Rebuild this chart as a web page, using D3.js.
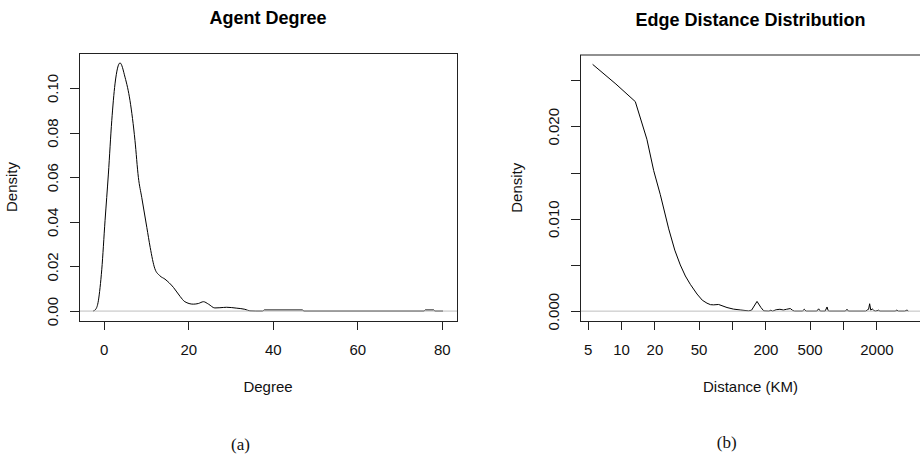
<!DOCTYPE html>
<html>
<head>
<meta charset="utf-8">
<script src="https://cdn.jsdelivr.net/npm/d3@7"></script>
<style>
  body { margin: 0; background: #fff; }
  svg { display: block; font-family: "Liberation Sans", Arial, sans-serif; }
</style>
</head>
<body>
<svg id="chart" width="920" height="455"></svg>
<script>
// ---------- Data: panel (a) Agent Degree ----------
const degreeX = [-2.54, -1.9, -1.27, -0.87, -0.47, 0.31, 1.1, 1.9, 2.67, 3.86, 5.04, 6.22, 7.4, 8.2, 9.0, 10.2, 11.0, 12.1, 13.3, 14.5, 16.5, 18.1, 19.2, 21.2, 22.4, 23.6, 24.8, 26.3, 27.5, 29.1, 31.5, 33.4, 34.6, 36, 37.6, 38, 47, 47.4, 75.8, 76.1, 78.1, 78.4, 80.3];
const degreeY = [0, 0.0008, 0.0046, 0.0105, 0.0185, 0.0405, 0.0614, 0.0853, 0.1018, 0.1112, 0.1048, 0.0943, 0.0764, 0.0599, 0.0509, 0.0375, 0.0285, 0.0190, 0.0158, 0.0143, 0.0106, 0.0065, 0.0042, 0.0031, 0.0034, 0.0042, 0.0031, 0.0014, 0.0015, 0.0017, 0.0013, 0.0008, 0.0001, 0, 0, 0.0005, 0.0005, 0, 0, 0.0005, 0.0005, 0, 0];
const degreeTicksX = [0, 20, 40, 60, 80];
const degreeTicksY = [0, 0.02, 0.04, 0.06, 0.08, 0.10];
const degreeLabelsY = ["0.00", "0.02", "0.04", "0.06", "0.08", "0.10"];

// ---------- Data: panel (b) Edge Distance Distribution ----------
const distX = [5.55, 9.0, 13.45, 17.1, 19.7, 22.6, 26.9, 30.5, 34.2, 38, 42.1, 48.4, 54, 59.5, 64, 68.3, 75.7, 90.1, 103, 120, 141, 150, 168, 182, 193, 215, 224, 232, 250, 270, 290, 310, 335, 350, 365, 430, 448, 465, 580, 603, 625, 690, 718, 735, 750, 1050, 1086, 1120, 1600, 1650, 1700, 1738, 1780, 1830, 1885, 1950, 2094, 2150, 2950, 3060, 3150, 3600, 3776, 3880];
const distY = [0.0267, 0.02457, 0.02267, 0.0186, 0.0152, 0.0126, 0.0089, 0.0066, 0.0050, 0.0038, 0.0029, 0.00185, 0.00118, 0.00086, 0.0007, 0.00068, 0.00072, 0.00039, 0.00022, 0.00012, 0.00003, 0.0001, 0.00105, 0.0004, 0.00003, 0, 0.0001, 0, 0.00015, 0.0002, 0.00012, 0.0002, 0.00028, 0.0001, 0, 0, 0.0002, 0, 0, 0.00025, 0, 0, 0.00045, 0.00005, 0, 0, 0.0002, 0, 0, 0.00012, 0.0002, 0.0008, 0.0001, 0.00025, 0.0001, 0, 0.0001, 0, 0, 0.00012, 0, 0, 0.00012, 0];
const distTicksX = [5, 10, 20, 50, 100, 200, 500, 1000, 2000, 5000];
const distLabelsX = ["5", "10", "20", "50", "", "200", "500", "", "2000", ""];
const distTicksY = [0, 0.005, 0.010, 0.015, 0.020, 0.025];
const distLabelsY = ["0.000", "", "0.010", "", "0.020", ""];

const svg = d3.select("#chart");

function expand(lo, hi) { const p = 0.04 * (hi - lo); return [lo - p, hi + p]; }

function panel(cfg) {
  const g = svg.append("g");
  const { left, right, top, bottom } = cfg.box;
  const x = cfg.xScale.range([left, right]);
  const y = d3.scaleLinear().domain(expand(0, d3.max(cfg.ys))).range([bottom, top]);

  // x axis
  const xa = d3.axisBottom(x).tickValues(cfg.xTicks).tickSize(9).tickSizeOuter(0)
    .tickFormat((d, i) => cfg.xLabels[i]);
  const gx = g.append("g").attr("transform", `translate(0,${bottom})`).call(xa);
  gx.select(".domain").remove();
  gx.selectAll(".tick line").attr("stroke", "#222").attr("shape-rendering", "crispEdges");
  gx.selectAll(".tick text").attr("y", 34).attr("dy", 0)
    .attr("font-size", 15).attr("fill", "#111").attr("font-family", "Liberation Sans, Arial, sans-serif");

  // y axis
  const ya = d3.axisLeft(y).tickValues(cfg.yTicks).tickSize(9).tickSizeOuter(0)
    .tickFormat((d, i) => cfg.yLabels[i]);
  const gy = g.append("g").attr("transform", `translate(${left},0)`).call(ya);
  gy.select(".domain").remove();
  gy.selectAll(".tick line").attr("stroke", "#222").attr("shape-rendering", "crispEdges");
  gy.selectAll(".tick text").attr("x", 0).attr("y", 0).attr("dy", 0)
    .attr("transform", "translate(-21,0) rotate(-90)")
    .attr("text-anchor", "middle")
    .attr("font-size", 15).attr("fill", "#111").attr("font-family", "Liberation Sans, Arial, sans-serif");

  // density curve
  const pts = cfg.xs.map((v, i) => [v, cfg.ys[i]]);
  const line = d3.line().x(d => x(d[0])).y(d => y(d[1])).curve(cfg.curve);
  g.append("path").datum(pts).attr("d", line)
    .attr("fill", "none").attr("stroke", "#000").attr("stroke-width", 1);

  // zero line (gray)
  g.append("line").attr("x1", left).attr("x2", right)
    .attr("y1", y(0)).attr("y2", y(0))
    .attr("stroke", "#bebebe").attr("stroke-width", 1);

  // box
  g.append("rect").attr("x", left + 0.5).attr("y", top + 0.5)
    .attr("width", right - left).attr("height", bottom - top)
    .attr("fill", "none").attr("stroke", "#222").attr("stroke-width", 1);

  // titles & labels
  const cx = (left + right) / 2;
  g.append("text").attr("x", cx).attr("y", cfg.titleY).attr("text-anchor", "middle")
    .attr("font-size", 18).attr("font-weight", "bold").attr("fill", "#000").text(cfg.title);
  g.append("text").attr("x", cx).attr("y", 392).attr("text-anchor", "middle")
    .attr("font-size", 15).attr("fill", "#111").text(cfg.xLabel);
  g.append("text").attr("transform", `translate(${cfg.yLabelX},${(top + bottom) / 2}) rotate(-90)`)
    .attr("text-anchor", "middle").attr("font-size", 15).attr("fill", "#111").text("Density");
  g.append("text").attr("x", cfg.capX).attr("y", cfg.capY).attr("text-anchor", "middle")
    .attr("font-family", "Liberation Serif, 'DejaVu Serif', serif")
    .attr("font-size", 17).attr("fill", "#111").text(cfg.caption);
}

panel({
  box: { left: 79, right: 457, top: 53, bottom: 321 },
  xScale: d3.scaleLinear().domain(expand(d3.min(degreeX), d3.max(degreeX))),
  xs: degreeX, ys: degreeY, curve: d3.curveMonotoneX,
  xTicks: degreeTicksX, xLabels: degreeTicksX.map(String),
  yTicks: degreeTicksY, yLabels: degreeLabelsY,
  title: "Agent Degree", titleY: 23.5, xLabel: "Degree", yLabelX: 16.7,
  caption: "(a)", capX: 240.5, capY: 449.5
});

const lx = expand(Math.log10(d3.min(distX)), Math.log10(d3.max(distX)));
panel({
  box: { left: 580, right: 921, top: 54.5, bottom: 321 },
  xScale: d3.scaleLog().domain([Math.pow(10, lx[0]), Math.pow(10, lx[1])]),
  xs: distX, ys: distY, curve: d3.curveLinear,
  xTicks: distTicksX, xLabels: distLabelsX,
  yTicks: distTicksY, yLabels: distLabelsY,
  title: "Edge Distance Distribution", titleY: 26, xLabel: "Distance (KM)", yLabelX: 521.7,
  caption: "(b)", capX: 726.7, capY: 448
});
</script>
</body>
</html>
